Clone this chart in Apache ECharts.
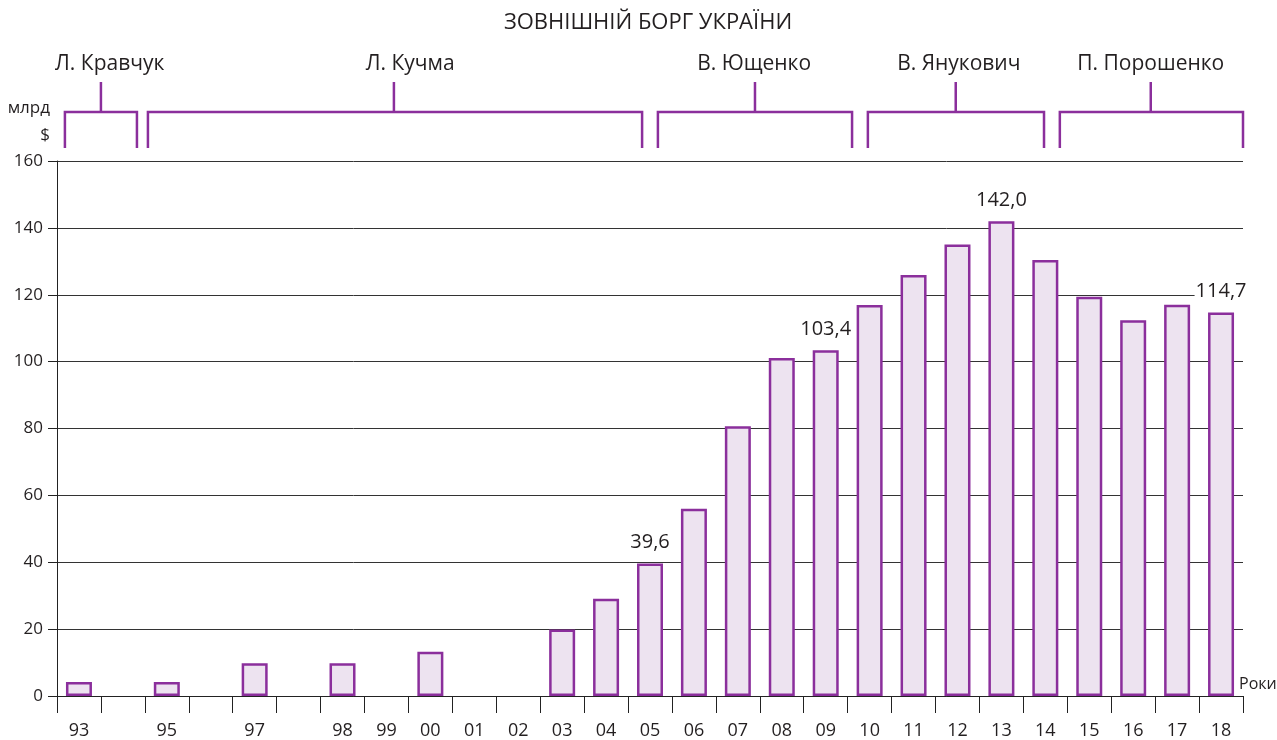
<!DOCTYPE html>
<html>
<head>
<meta charset="utf-8">
<title>Зовнішній борг України</title>
<script src="https://cdn.jsdelivr.net/npm/echarts@6/dist/echarts.min.js"></script>
<style>
  html, body { margin: 0; padding: 0; background: #fff; }
  #chart { width: 1277px; height: 740px; }
</style>
</head>
<body>
<div id="chart"></div>
<script>
// Year labels along the axis (some slots have no label)
const yearLabels = ['93', '', '95', '', '97', '', '98', '99', '00', '01', '02', '03', '04', '05',
  '06', '07', '08', '09', '10', '11', '12', '13', '14', '15', '16', '17', '18'];

// External debt, bn USD (null where no bar is drawn)
const debtValues = [4.2, null, 4.2, null, 9.8, null, 9.8, null, 13.2, null, null, 19.9, 29.1, 39.6,
  56.0, 80.7, 101.1, 103.4, 116.9, 125.9, 135.0, 142.0, 130.4, 119.4, 112.4, 117.0, 114.7];

// Bars that carry a value label
const labelledIdx = [13, 17, 21, 26];

// Presidential terms: bracket start, end, stem and name position in slot units
const presidents = ['Л. Кравчук', 'Л. Кучма', 'В. Ющенко', 'В. Янукович', 'П. Порошенко'];
const termStart = [0.18, 2.07, 13.68, 18.46, 22.83];
const termEnd = [1.82, 13.32, 18.10, 22.47, 27.0];
const termStem = [1.0, 7.67, 15.89, 20.46, 24.9];
const termLabelAt = [1.2, 8.04, 15.87, 20.53, 24.9];

const yTicks = { min: 0, max: 160, step: 20 };

const FONT = '"Open Sans", "Noto Sans", sans-serif';
const INK = '#231f20';
const PURPLE = '#8b2f9c';
const FILL = '#ede3f0';

const chart = echarts.init(document.getElementById('chart'));

const barData = debtValues.map((v, i) => {
  if (labelledIdx.indexOf(i) >= 0) {
    return {
      value: v,
      label: {
        show: true,
        position: 'top',
        distance: 11,
        formatter: (p) => p.value.toFixed(1).replace('.', ','),
        fontSize: 20,
        fontFamily: FONT,
        color: INK,
        backgroundColor: '#fff',
        padding: [0, 1]
      }
    };
  }
  return v;
});

const termData = presidents.map((n, i) => ({
  name: n,
  value: [termStart[i], termEnd[i], termStem[i], termLabelAt[i]]
}));

chart.setOption({
  animation: false,
  title: {
    text: 'ЗОВНІШНІЙ БОРГ УКРАЇНИ',
    left: 643,
    textAlign: 'center',
    top: 7,
    textStyle: { fontFamily: FONT, fontSize: 22, fontWeight: 'normal', color: INK }
  },
  grid: { left: 57, right: 34, top: 161, bottom: 44, outerBoundsMode: 'none', containLabel: false },
  xAxis: [
    {
      type: 'category',
      data: yearLabels,
      boundaryGap: true,
      name: 'Роки',
      nameLocation: 'end',
      nameGap: -4,
      nameTextStyle: {
        fontFamily: FONT, fontSize: 16, color: INK,
        align: 'left', verticalAlign: 'bottom', padding: [0, 0, 4, 0]
      },
      axisLine: { lineStyle: { color: '#222', width: 1 } },
      axisTick: { show: true, length: 17, lineStyle: { color: '#222', width: 1 } },
      axisLabel: { interval: 0, margin: 26, fontSize: 18, fontFamily: FONT, color: INK }
    },
    {
      type: 'value',
      min: 0,
      max: 27,
      show: false
    }
  ],
  yAxis: {
    type: 'value',
    min: yTicks.min,
    max: yTicks.max,
    interval: yTicks.step,
    name: 'млрд\n$',
    nameLocation: 'end',
    nameGap: 12,
    nameTextStyle: {
      fontFamily: FONT, fontSize: 17, color: INK,
      align: 'right', verticalAlign: 'bottom', lineHeight: 27, padding: [0, 7, 0, 0]
    },
    axisLine: { show: true, lineStyle: { color: '#222', width: 1 } },
    axisTick: { show: true, length: 9, lineStyle: { color: '#222', width: 1 } },
    axisLabel: { margin: 14, fontSize: 17, fontFamily: FONT, color: INK },
    splitLine: { show: true, lineStyle: { color: '#333', width: 1 } }
  },
  series: [
    {
      type: 'bar',
      xAxisIndex: 0,
      data: barData,
      barWidth: 26,
      itemStyle: { color: FILL, borderColor: PURPLE, borderWidth: 2.5 }
    },
    {
      // brackets marking each presidential term above the plot
      type: 'custom',
      xAxisIndex: 1,
      yAxisIndex: 0,
      clip: false,
      silent: true,
      data: termData,
      renderItem: (params, api) => {
        const a = api.coord([api.value(0), yTicks.max]);
        const b = api.coord([api.value(1), yTicks.max]);
        const m = api.coord([api.value(2), yTicks.max]);
        const t = api.coord([api.value(3), yTicks.max]);
        const top = a[1];
        const yFoot = top - 13;
        const yBar = top - 49;
        const yStem = top - 79;
        const style = { stroke: PURPLE, lineWidth: 2.5, fill: null };
        return {
          type: 'group',
          children: [
            {
              type: 'polyline',
              shape: { points: [[a[0], yFoot], [a[0], yBar], [b[0], yBar], [b[0], yFoot]] },
              style: style
            },
            {
              type: 'line',
              shape: { x1: m[0], y1: yBar, x2: m[0], y2: yStem },
              style: style
            },
            {
              type: 'text',
              x: t[0],
              y: top - 97,
              style: {
                text: presidents[params.dataIndex],
                fontFamily: FONT,
                fontSize: 21,
                fill: INK,
                align: 'center',
                verticalAlign: 'middle'
              }
            }
          ]
        };
      }
    }
  ]
});
</script>
</body>
</html>
